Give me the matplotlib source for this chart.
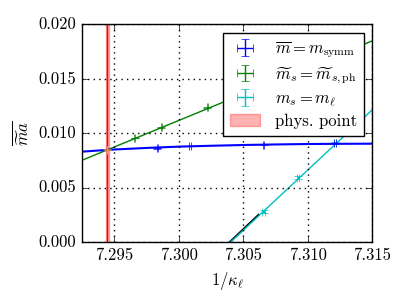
import matplotlib
matplotlib.use('Agg')
import matplotlib.pyplot as plt

plt.style.use('classic')
plt.rcParams['font.family'] = 'serif'
plt.rcParams['font.serif'] = ['cmr10']
plt.rcParams['mathtext.fontset'] = 'cm'
plt.rcParams['axes.unicode_minus'] = False

# data points
symm_x = [7.29834, 7.30088, 7.30659, 7.31213]
symm_y = [0.00863, 0.00884, 0.00896, 0.00911]
symm_fit_x = [7.2925, 7.2947, 7.2975, 7.3000, 7.3025, 7.3050, 7.3075, 7.3100, 7.3125, 7.3150]
symm_fit_y = [0.00832, 0.00850, 0.00866, 0.00878, 0.00886, 0.00893, 0.00898, 0.00902, 0.00904, 0.00905]

sph_x = [7.29659, 7.29865, 7.30221]
sph_y = [0.00957, 0.01056, 0.01239]
sph_fit_x = [7.2925, 7.3150]
sph_fit_y = [0.00753, 0.01848]

sl_x = [7.30659, 7.30927, 7.31213]
sl_y = [0.00280, 0.00593, 0.00911]
sl_fit_x = [7.30401, 7.3150]
sl_fit_y = [0.0, 0.01214]
black_x = [7.30395, 7.30620]
black_y = [0.0, 0.00252]

phys_x = 7.29445
phys_y = 0.00850

fig = plt.figure(figsize=(4.07, 3.05), dpi=100)
ax = fig.add_axes([0.2015, 0.2056, 0.7125, 0.7144])

ax.axvspan(phys_x - 0.00012, phys_x + 0.00012, color='red', alpha=0.3, lw=1, label='phys. point')
ax.axvline(phys_x, color='red', lw=1)

ax.plot(black_x, black_y, color='k', lw=1.5)
ax.plot(sl_fit_x, sl_fit_y, color='c', lw=1)
ax.errorbar(sl_x, sl_y, xerr=0.00010, yerr=0.00012, fmt='none', ecolor='c', capsize=3, lw=1,
            label=r'$m_s = m_\ell$')

ax.plot(sph_fit_x, sph_fit_y, color='g', lw=1)
ax.errorbar(sph_x, sph_y, xerr=0.00003, yerr=0.00003, fmt='none', ecolor='g', capsize=3, lw=1,
            label=r'$\widetilde{m}_s = \widetilde{m}_{s,\mathrm{ph}}$')

ax.plot(symm_fit_x, symm_fit_y, color='b', lw=1.5)
ax.errorbar(symm_x, symm_y, xerr=0.00004, yerr=0.00004, fmt='none', ecolor='b', capsize=3, lw=1,
            label=r'$\overline{m} = m_\mathrm{symm}$')

ax.errorbar([phys_x], [phys_y], xerr=0.00002, yerr=0.00003, fmt='none', ecolor='orange',
            capsize=3, lw=1)

ax.set_xlim(7.2925, 7.315)
ax.set_ylim(0.0, 0.020)
ax.set_xticks([7.295, 7.300, 7.305, 7.310, 7.315])
ax.set_xticklabels(['7.295', '7.300', '7.305', '7.310', '7.315'])
ax.set_yticks([0.0, 0.005, 0.010, 0.015, 0.020])
ax.set_yticklabels(['0.000', '0.005', '0.010', '0.015', '0.020'])
ax.tick_params(labelsize=12)
ax.grid(True, color='k', linestyle=':', lw=1)

ax.set_xlabel(r'$1/\kappa_\ell$', fontsize=12)
ax.set_ylabel(r'$\overline{\widetilde{m}a}$', fontsize=12)

handles, labels = ax.get_legend_handles_labels()
order = [3, 2, 1, 0]
ax.legend([handles[i] for i in order], [labels[i] for i in order],
          loc='upper right', fontsize=12, numpoints=1, borderaxespad=0.5,
          borderpad=0.4, handlelength=1.8, handletextpad=0.9, labelspacing=0.3)

fig.savefig('out.png', dpi=100)
